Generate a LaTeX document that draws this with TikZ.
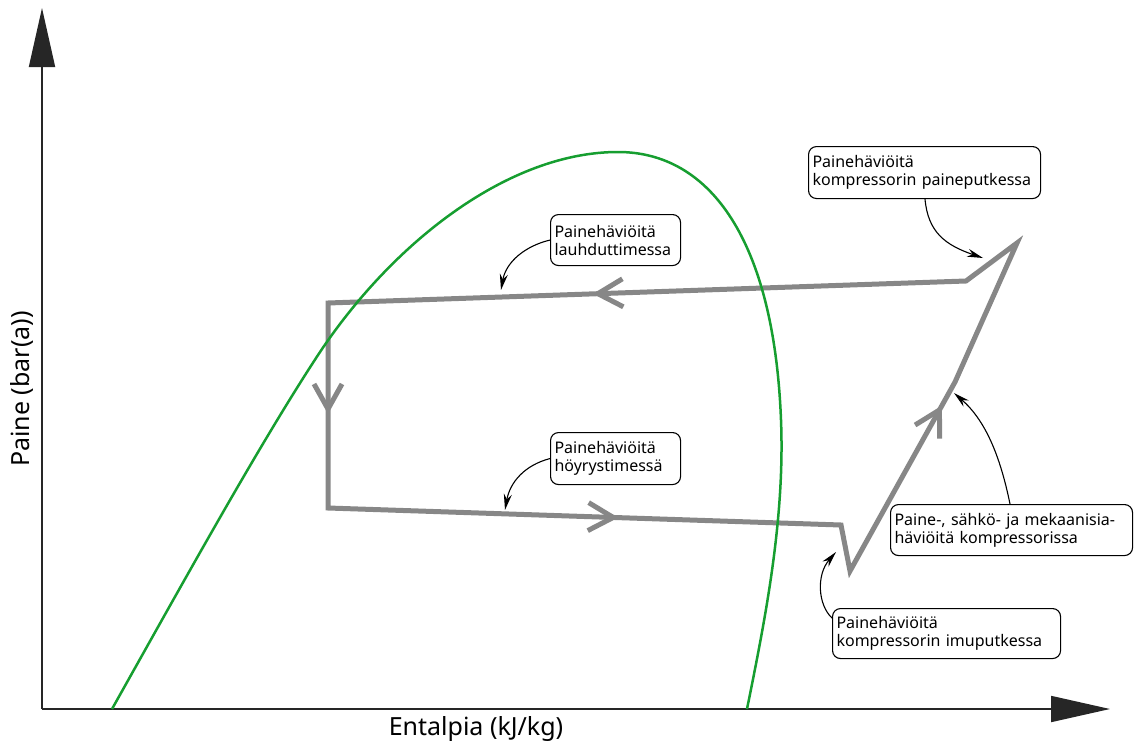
\documentclass[tikz,border=0pt]{standalone}
\usepackage{fontspec}
\setmainfont{Noto Sans}
\usetikzlibrary{arrows.meta,decorations.markings}

\definecolor{satgreen}{RGB}{22,158,48}
\definecolor{cyclegrey}{RGB}{135,135,135}

\begin{document}
\begin{tikzpicture}[x=1pt,y=-1pt,
  axis/.style={line width=1.8pt, draw=black!85, -{Triangle[length=59pt,width=26pt]}},
  satcurve/.style={line width=2.5pt, draw=satgreen},
  cycleline/.style={line width=5pt, draw=cyclegrey, line join=miter},
  flowmark/.style={decoration={markings, mark=at position #1 with {
      \draw[cyclegrey, line width=5pt] (-25pt,14pt) -- (0pt,0pt) -- (-25pt,-14pt);}},
    postaction=decorate},
  callout/.style={draw, rounded corners=8pt, line width=1.1pt, fill=white,
    align=left, anchor=north west, inner xsep=4pt, inner ysep=2pt,
    font=\fontsize{16}{18}\selectfont},
  pointer/.style={line width=1.1pt, -{Stealth[length=16pt,width=8pt]}}
]
\useasboundingbox (0,0) rectangle (1135,747);

% axes
\coordinate (O) at (42,709);
\coordinate (ytop) at (42,8);
\coordinate (xend) at (1110,709);
\draw[axis] (O) -- (ytop);
\draw[axis] (O) -- (xend);
\node[font=\fontsize{25}{28}\selectfont] (xlab) at (476,729) {Entalpia (kJ/kg)};
\node[font=\fontsize{25}{28}\selectfont, rotate=90] (ylab) at (22,389) {Paine (bar(a))};

% refrigeration cycle with losses
\coordinate (A) at (966,281);
\coordinate (B) at (328,303);
\coordinate (C) at (328,508);
\coordinate (D) at (841,525);
\coordinate (E) at (850,571);
\coordinate (F) at (955,382);
\coordinate (G) at (1017,243);
\draw[cycleline] (A) -- (B) -- (C) -- (D) -- (E) -- (F) -- (G) -- cycle;
\path[flowmark=0.577] (A) -- (B);
\path[flowmark=0.517] (B) -- (C);
\path[flowmark=0.556] (C) -- (D);
\path[flowmark=0.852] (E) -- (F);

% saturation curve
\draw[satcurve] (112,709) .. controls (190,570) and (262,440) .. (320,352)
  .. controls (395,240) and (510,152) .. (618,152)
  .. controls (710,152) and (774,240) .. (781,420)
  .. controls (785,520) and (765,620) .. (747,709);

% callouts
\node[callout, text width=224pt, minimum height=52pt] (c1) at (808,146)
  {Painehäviöitä\\kompressorin paineputkessa};
\node[callout, text width=122pt, minimum height=51pt] (c2) at (550,214)
  {Painehäviöitä\\lauhduttimessa};
\node[callout, text width=122pt, minimum height=52pt] (c3) at (550,432)
  {Painehäviöitä\\höyrystimessä};
\node[callout, text width=234pt, minimum height=51pt] (c4) at (890,504)
  {Paine-, sähkö- ja mekaanisia-\\häviöitä kompressorissa};
\node[callout, text width=220pt, minimum height=50pt] (c5) at (832,608)
  {Painehäviöitä\\kompressorin imuputkessa};

\coordinate (t1) at (983,258);
\coordinate (t2) at (501,290);
\coordinate (t3) at (505,510);
\coordinate (t4) at (954,393);
\coordinate (t5) at (836,552);

\draw[pointer] ([xshift=117pt]c1.south west) .. controls (928,232) and (945,245) .. (t1);
\draw[pointer] (c2.west) .. controls (525,246) and (506,262) .. (t2);
\draw[pointer] (c3.west) .. controls (525,465) and (510,482) .. (t3);
\draw[pointer] ([xshift=120pt]c4.north west) .. controls (1000,455) and (985,420) .. (t4);
\draw[pointer] ([yshift=-10pt]c5.north west) .. controls (818,605) and (816,575) .. (t5);
\end{tikzpicture}
\end{document}
